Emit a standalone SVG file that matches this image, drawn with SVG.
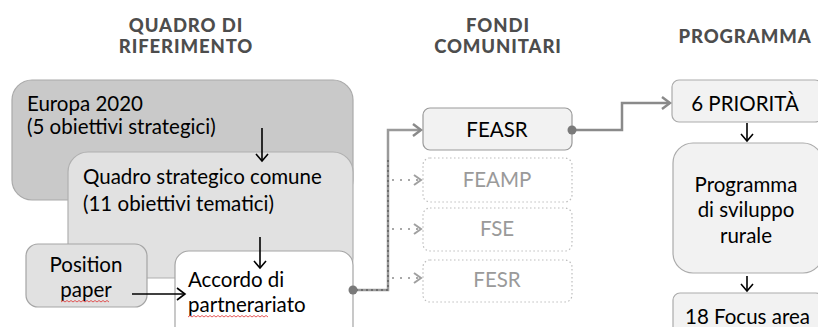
<svg xmlns="http://www.w3.org/2000/svg" width="818" height="327" viewBox="0 0 818 327">
<style>
.t{font-family:Lato,"Liberation Sans",sans-serif;font-size:20.5px;fill:#000}
.h{font-family:Lato,"Liberation Sans",sans-serif;font-size:18.5px;font-weight:900;letter-spacing:0.9px;fill:#4d4d4d;text-anchor:middle}
.c{text-anchor:middle}
.g{fill:#9a9a9a}
.dbox{fill:#fff;stroke:#bdbdbd;stroke-width:1.2;stroke-dasharray:1.5 2.5}
.blk{fill:none;stroke:#000;stroke-width:1.6}
.sq{fill:none;stroke:#e03030;stroke-width:0.8}
</style>
<defs>
<marker id="ah" markerWidth="14" markerHeight="14" refX="7" refY="12" orient="0" markerUnits="userSpaceOnUse" viewBox="0 0 14 14"><path d="M1,5 L7,12 L13,5" fill="none" stroke="#000" stroke-width="1.6"/></marker>
<marker id="ahr" markerWidth="14" markerHeight="14" refX="12" refY="7" orient="auto" markerUnits="userSpaceOnUse" viewBox="0 0 14 14"><path d="M4,1 L12,7 L4,13" fill="none" stroke="#000" stroke-width="1.6"/></marker>
<marker id="ahg" markerWidth="16" markerHeight="16" refX="13" refY="8" orient="auto" markerUnits="userSpaceOnUse" viewBox="0 0 16 16"><path d="M5,2 L13,8 L5,14" fill="none" stroke="#8a8a8a" stroke-width="2.4"/></marker>
<marker id="ahd" markerWidth="14" markerHeight="14" refX="11" refY="7" orient="auto" markerUnits="userSpaceOnUse" viewBox="0 0 14 14"><path d="M4,2 L11,7 L4,12" fill="none" stroke="#a0a0a0" stroke-width="2"/></marker>
</defs>

<g id="titles">
<text class="h" x="186" y="32">QUADRO DI</text>
<text class="h" x="186" y="53">RIFERIMENTO</text>
<text class="h" x="498" y="32">FONDI</text>
<text class="h" x="498" y="53">COMUNITARI</text>
<text class="h" x="745" y="43">PROGRAMMA</text>
</g>

<g id="europa">
<rect x="12" y="80" width="341" height="120" rx="20" fill="#c9c9c9" stroke="#aaaaaa" stroke-width="1.2"/>
<text class="t" x="27" y="111">Europa 2020</text>
<text class="t" x="27" y="134">(5 obiettivi strategici)</text>
</g>

<g id="quadro">
<rect x="68" y="152" width="285" height="126" rx="20" fill="#e1e1e1" stroke="#b0b0b0" stroke-width="1.2"/>
<text class="t" x="83" y="184">Quadro strategico comune</text>
<text class="t" x="83" y="211">(11 obiettivi tematici)</text>
</g>

<g id="position">
<rect x="26" y="244" width="121" height="63" rx="12" fill="#e1e1e1" stroke="#a5a5a5" stroke-width="1.2"/>
<text class="t c" x="86" y="272">Position</text>
<text class="t c" x="86" y="297">paper</text>
<path class="sq" d="M61,302 l2,-1.5 l2,1.5 l2,-1.5 l2,1.5 l2,-1.5 l2,1.5 l2,-1.5 l2,1.5 l2,-1.5 l2,1.5 l2,-1.5 l2,1.5 l2,-1.5 l2,1.5 l2,-1.5 l2,1.5 l2,-1.5 l2,1.5 l2,-1.5 l2,1.5 l2,-1.5 l2,1.5 l2,-1.5 l2,1.5"/>
</g>

<g id="accordo">
<rect x="175" y="251" width="178" height="95" rx="14" fill="#ffffff" stroke="#a5a5a5" stroke-width="1.2"/>
<text class="t" x="188" y="287">Accordo di</text>
<text class="t" x="188" y="312">partnerariato</text>
<path class="sq" d="M188,317 l2,-1.5 l2,1.5 l2,-1.5 l2,1.5 l2,-1.5 l2,1.5 l2,-1.5 l2,1.5 l2,-1.5 l2,1.5 l2,-1.5 l2,1.5 l2,-1.5 l2,1.5 l2,-1.5 l2,1.5 l2,-1.5 l2,1.5 l2,-1.5 l2,1.5 l2,-1.5 l2,1.5 l2,-1.5 l2,1.5 l2,-1.5 l2,1.5 l2,-1.5 l2,1.5 l2,-1.5 l2,1.5 l2,-1.5 l2,1.5 l2,-1.5 l2,1.5 l2,-1.5 l2,1.5 l2,-1.5 l2,1.5 l2,-1.5 l2,1.5"/>
</g>

<g id="feasr">
<rect x="423" y="108" width="149" height="42" rx="7" fill="#f2f2f2" stroke="#9a9a9a" stroke-width="1.2"/>
<text class="t c" x="497" y="137">FEASR</text>
</g>
<g id="feamp">
<rect class="dbox" x="423" y="158" width="149" height="44" rx="7"/>
<text class="t c g" x="497" y="187">FEAMP</text>
</g>
<g id="fse">
<rect class="dbox" x="423" y="208" width="149" height="43" rx="7"/>
<text class="t c g" x="497" y="236">FSE</text>
</g>
<g id="fesr">
<rect class="dbox" x="423" y="260" width="149" height="42" rx="7"/>
<text class="t c g" x="497" y="287">FESR</text>
</g>

<g id="priorita">
<rect x="672" y="80" width="150" height="42" rx="7" fill="#f2f2f2" stroke="#ababab" stroke-width="1.2"/>
<text class="t c" x="745" y="111">6 PRIORITÀ</text>
</g>
<g id="psr">
<rect x="673" y="143" width="150" height="130" rx="20" fill="#f2f2f2" stroke="#ababab" stroke-width="1.2"/>
<text class="t c" x="746" y="192">Programma</text>
<text class="t c" x="746" y="217">di sviluppo</text>
<text class="t c" x="746" y="243">rurale</text>
</g>
<g id="focus">
<rect x="673" y="293" width="150" height="50" rx="7" fill="#f2f2f2" stroke="#ababab" stroke-width="1.2"/>
<text class="t" x="685" y="324">18 Focus area</text>
</g>

<g id="connectors">
<path class="blk" d="M262,128 V161" marker-end="url(#ah)"/>
<path class="blk" d="M260,237 V268" marker-end="url(#ah)"/>
<path class="blk" d="M132,294 H185" marker-end="url(#ahr)"/>
<path d="M353,290 H388 V130 H421" fill="none" stroke="#9a9a9a" stroke-width="2.5" marker-end="url(#ahg)"/>
<path d="M356,290 H388 V160" fill="none" stroke="#6e6e6e" stroke-width="2" stroke-dasharray="2 3"/>
<circle cx="353" cy="290" r="4.5" fill="#7a7a7a"/>
<path d="M392,180 H421" fill="none" stroke="#a8a8a8" stroke-width="2" stroke-dasharray="2 6" marker-end="url(#ahd)"/>
<path d="M392,229 H421" fill="none" stroke="#a8a8a8" stroke-width="2" stroke-dasharray="2 6" marker-end="url(#ahd)"/>
<path d="M392,278 H421" fill="none" stroke="#a8a8a8" stroke-width="2" stroke-dasharray="2 6" marker-end="url(#ahd)"/>
<path d="M572,130 H622 V103 H670" fill="none" stroke="#8a8a8a" stroke-width="2.5" marker-end="url(#ahg)"/>
<circle cx="572" cy="130" r="4.5" fill="#7a7a7a"/>
<path class="blk" d="M747,123 V141" marker-end="url(#ah)"/>
<path class="blk" d="M747,276 V291" marker-end="url(#ah)"/>
</g>
</svg>
